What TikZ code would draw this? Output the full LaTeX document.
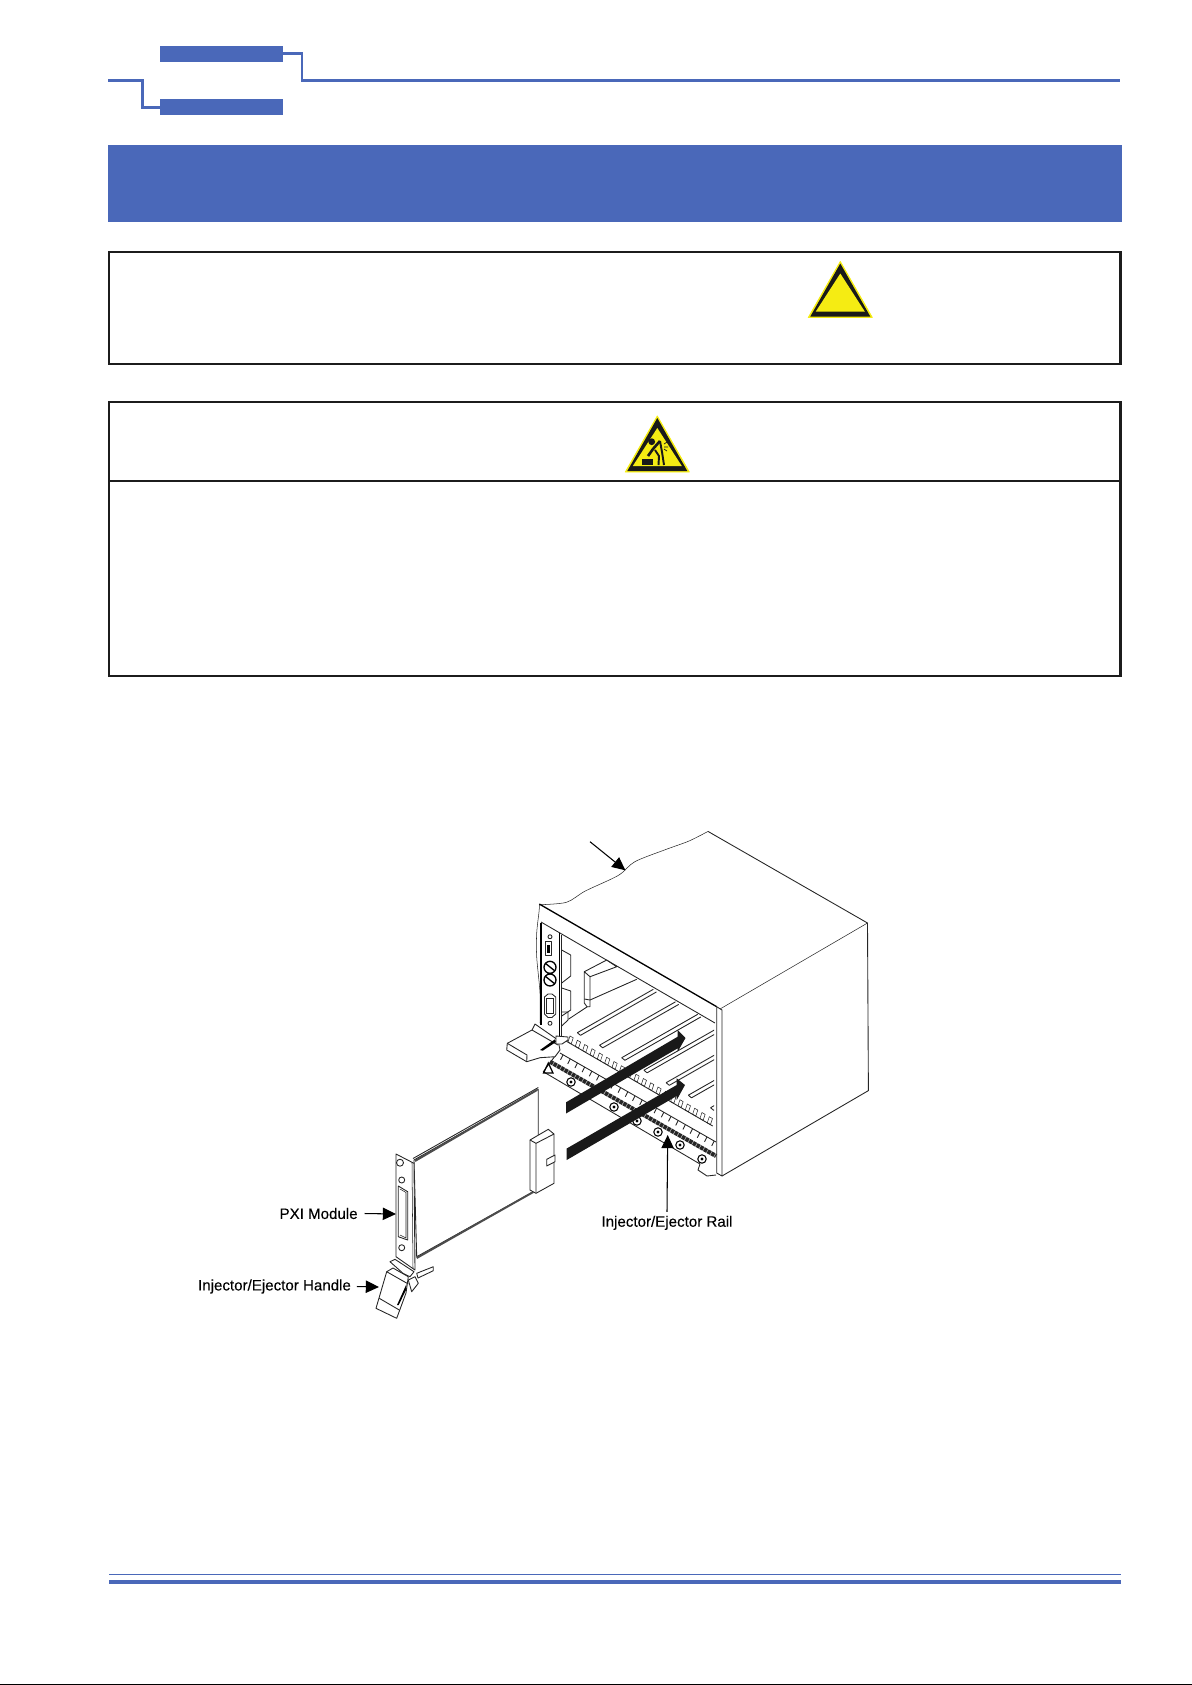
\documentclass[tikz,border=0pt]{standalone}
\usepackage{fontspec}
\setmainfont{Liberation Sans}
\newfontfamily\calloutfont[FakeBold=0.2]{Liberation Sans}
\usepackage{xcolor}
\definecolor{pageblue}{HTML}{4A68B9}
\definecolor{signyellow}{HTML}{F5EC13}
\definecolor{framegray}{HTML}{1C1C1C}
\usetikzlibrary{arrows.meta}
\tikzset{
  rule/.style={line width=1.7pt,pageblue},
  frame/.style={line width=1.15pt,framegray},
  ink/.style={line width=0.5pt,black!85,line join=round},
  fine/.style={line width=0.3pt,black!85},
  callout/.style={line width=0.6pt,black,-{Triangle[length=7.5pt,width=7pt]}},
  lbl/.style={font=\calloutfont\fontsize{8.6}{10}\selectfont,inner sep=2pt},
  warnsign/.pic={
    \fill[signyellow,line join=round,draw=signyellow,line width=0.5pt] (0,0)--(-32,56)--(32,56)--cycle;
    \fill[black!90,line join=round] (0,2)--(-30,55)--(30,55)--cycle;
    \fill[signyellow] (0,12)--(-24.5,50)--(24.5,50)--cycle;
  }
}
\begin{document}
\begin{tikzpicture}[x=0.02cm,y=-0.02cm]
  \useasboundingbox (0,0) rectangle (1192,1685);
  % page head
  \fill[pageblue] (160,46)rectangle(283,62);
  \fill[pageblue] (160,99.2)rectangle(283,114.8);
  \fill[pageblue] (108,145.2)rectangle(1121.5,221.8);
  \draw[rule] (283,53.3)--(302,53.3)--(302,80.4)--(1119.5,80.4);
  \draw[rule] (108,80.4)--(142.3,80.4)--(142.3,107.5)--(160,107.5);
  % boxes and signs
  \draw[frame] (109,251.6)rectangle(1120.5,364.4);
  \draw[frame] (109,401.6)rectangle(1120.5,675.6);
  \draw[frame] (109,480.8)--(1120.5,480.8);
  \pic at (840.3,261.5) {warnsign};
  \pic at (657.3,416) {warnsign};
  \fill[black!90] (651.7,441.7) circle (3.4);
  \fill[black!90] (642,459)rectangle(653.3,465);
  \draw[line width=1.5pt,black!90] (660,441)--(653,449)--(648,456);
  \draw[line width=1.1pt,black!90] (660,441)--(662,452)--(664,465);
  \draw[line width=1.1pt,black!90] (655,450)--(659,456)--(658.5,465);
  \draw[line width=0.4pt,black!90] (664,444)--(667,442) (664,447)--(668,447) (664,449)--(667,451);
  % page foot
  \fill[pageblue] (109,1573.8)rectangle(1121,1575);
  \fill[pageblue] (109,1580)rectangle(1121,1584);
  \fill[black] (0,1684)rectangle(1192,1685);
  % chassis
  \draw[fine] plot[smooth] coordinates {(539.5,904.7)(566.4,902.3)(585.3,891)(618.3,875.4)(634.8,861.7)(665.5,849.6)(689,841)(708,831.4)};
  \draw[fine] plot[smooth] coordinates {(539.5,904.7)(539,912)(536.7,933)(536.7,957)(540,993)(540,1023)};
  \draw[ink] (708,831.4)--(867.5,923)--(868.4,1090.6)--(722,1176);
  \draw[fine] (720,1009)--(867.5,923);
  \draw[line width=0.75pt] (539.3,904)--(716.7,1006.7);
  \draw[ink] (541,922)--(715,1023);
  \draw[ink] (716.7,1006.7)--(716.7,1173)--(722,1176)--(722,1010)--cycle;
  % plug-in panel
  \draw[line width=0.75pt] (541,923)--(541,1025);
  \draw[line width=0.75pt] (559.3,933)--(559.3,1040);
  \draw[ink] (561.7,935)--(561.7,1040);
  \draw[ink] (545,941)rectangle(551.7,955.7);
  \fill (546.5,945)rectangle(550.2,953);
  \draw[ink] (550,936.7) circle (2);
  \draw[line width=0.75pt] (550,967.3) circle (6) (550,980) circle (6);
  \draw[line width=0.75pt] (545,963)--(555,971) (545,976)--(555,984);
  \draw[ink] (544.5,997)--(548,994)--(552,994)--(555.7,997)--(555.7,1014)--(552,1017.5)--(548,1017.5)--(544.5,1014)--cycle;
  \draw[fine] (546.5,998)rectangle(553.7,1013);
  \draw[ink] (550,1023.3) circle (2);
  \draw[ink] (561.7,950)--(570.7,955)--(570.7,976)--(561.7,983);
  \draw[ink] (561.7,988)--(570.7,991)--(570.7,1010)--(561.7,1016);
  \draw[ink] (561.7,1012)--(568,1012)--(568,1020)--(561.7,1026);
  % inner card and floor
  \draw[ink] (584.3,971.7)--(584.3,1003)--(587,1006.7)--(590,1006.7)--(590,976.7)--(584.3,971.7)--(606.7,960)--(616.7,966.7)--(590,976.7);
  \draw[ink] (584.3,999)--(590,1000);
  \draw[ink] (590,1000)--(636.7,979.3);
  \draw[ink] (568.3,1019.3)--(587.3,1006.7);
  \begin{scope}
    \clip (500,900)rectangle(714,1200);
    \foreach \i in {0,...,6}{
      \pgfmathsetmacro{\sx}{577.3+22.2*\i}
      \pgfmathsetmacro{\sy}{1032.7+12.5*\i}
      \draw[ink] (\sx,\sy)--++(76,-43.4) (\sx,\sy)--++(3.2,2.6)--++(76,-43.4);
    }
  \end{scope}
  % floor edge with its tabs
  \draw[ink] (566,1041)--(712.7,1126);
  \foreach \i in {0,...,19}{
    \draw[fine] (570+7.33*\i,1036+4.25*\i)--++(-2,6)--++(3.2,1.8)--++(2,-6)--cycle;
  }
  % rail
  \draw[ink] (558.3,1051.7)--(543.3,1071.7)--(700,1164)--(698,1170)--(707,1176)--(716,1175);
  \draw[ink] (560,1053)--(716,1142);
  \draw[line width=2.4pt,dash pattern=on 2pt off 0.4pt,black!85] (550,1061.7)--(716,1156);
  \foreach \i in {0,...,21}{
    \draw[ink] (563+7.2*\i,1054.8+4.1*\i)--++(-2.5,5);
  }
  \foreach \cx/\cy in {571/1082,614/1107,637/1121,658/1132,680/1145,702/1159}{
    \draw[line width=0.6pt] (\cx,\cy) circle (4.2);
    \fill (\cx,\cy) circle (1.6);
  }
  \draw[line width=0.7pt] (548.3,1063)--(543.5,1073)--(553,1073)--cycle;
  % handle in the chassis
  \draw[ink,fill=white] (507.3,1043.3)--(506.7,1050)--(526.7,1061.7)--(540,1057.7)--(555,1056.7)--(560,1050)--(558,1040)--(535,1024)--(532,1030)--cycle;
  \draw[ink] (507.3,1043.3)--(527,1055)--(526.7,1061.7) (532,1030)--(558,1045);
  \fill (540,1050)--(555,1039.3)--(556,1042)--(542.7,1050.7)--cycle;
  \draw[ink,fill=white] (556,1036)--(568,1037)--(568,1040)--(562,1044)--(556,1044)--cycle;
  % insertion arrows
  \fill[black!90] (566,1102.3)--(677.7,1036.7)--(677.7,1030)--(685.5,1038)--(677.7,1051.7)--(677.7,1048.3)--(566,1113.5)--cycle;
  \fill[black!90] (566.7,1148.5)--(676.7,1085)--(676.7,1078.3)--(685,1085)--(676.7,1100)--(676.7,1096)--(566.7,1160)--cycle;
  % module
  \draw[ink,fill=white] (414,1160)--(538.3,1089.3)--(538.3,1135)--(533.3,1191.7)--(416.7,1256.7)--cycle;
  \draw[line width=1.1pt,black!70] (415,1161)--(537,1090);
  \draw[ink] (413,1158.5)--(538.3,1087.5);
  \draw[line width=1.1pt,black!70] (416.7,1258)--(533.3,1192);
  \draw[ink,fill=white] (396,1154)--(414,1163.3)--(415,1270)--(396,1256.7)--cycle;
  \draw[fine] (412,1162.5)--(413,1268.5);
  \draw[ink,fill=white] (400,1162.7) circle (3.5);
  \draw[ink,fill=white] (401.7,1180) circle (3);
  \draw[ink,fill=white] (401.7,1247.7) circle (3);
  \draw[ink] (398.3,1186)--(407.7,1191.7)--(407.7,1240)--(398.3,1236.7)--cycle;
  \draw[fine] (400,1189)--(406,1192.5)--(406,1238)--(400,1235);
  % connector block on the module
  \draw[ink,fill=white] (530,1140)--(548.3,1129.3)--(554,1134)--(554,1183.3)--(536,1193.3)--(530,1190)--cycle;
  \draw[ink] (530,1140)--(536,1143.3)--(554,1134) (536,1143.3)--(536,1193.3);
  \draw[ink,fill=white] (546.7,1159.3)--(555,1155)--(555,1161.7)--(546.7,1166)--cycle;
  % handle on the module
  \draw[ink,fill=white] (416.7,1273.3)--(433.3,1266.7)--(433.3,1270.7)--(418,1278)--cycle;
  \draw[ink,fill=white] (390,1261.7)--(395,1259.3)--(414,1271.7)--(410,1276.7)--(403,1273.3)--cycle;
  \draw[ink,fill=white] (376,1308.3)--(386.7,1271.7)--(393,1268)--(408.3,1276.7)--(406,1293)--(396.7,1318.3)--cycle;
  \draw[ink] (379.3,1298.3)--(399.3,1310) (386.7,1271.7)--(408.3,1284);
  \fill (397,1305)--(406.5,1284)--(406,1290)--(398.7,1305)--cycle;
  \draw[ink,fill=white] (408.3,1280)--(415,1276.7)--(418.3,1283.3)--(411.7,1291.7)--cycle;
  % labels
  \node[lbl] (pxilabel) at (318.6,1213.5) {PXI Module};
  \node[lbl] (handlelabel) at (274.5,1286.5) {Injector/Ejector Handle};
  \node[lbl] (raillabel) at (667,1222.8) {Injector/Ejector Rail};
  \coordinate (pxitip) at (396,1214);
  \coordinate (handletip) at (379,1287);
  \coordinate (railtip) at (667.7,1135);
  \coordinate (chassistail) at (590,841.7);
  \coordinate (chassistip) at (625.4,870.3);
  \draw[callout] (pxilabel.east)++(3,0)--(pxitip);
  \draw[callout] (handlelabel.east)++(2,0)--(handletip);
  \draw[callout] (raillabel.north)--(railtip);
  \draw[callout] (chassistail)--(chassistip);
\end{tikzpicture}
\end{document}
